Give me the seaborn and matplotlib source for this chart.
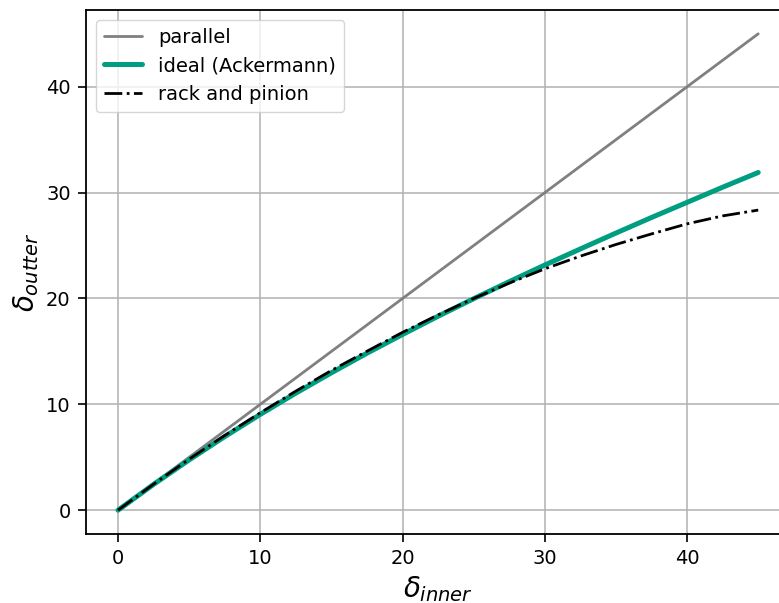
import matplotlib
matplotlib.use("Agg")
import matplotlib.pyplot as plt
import numpy as np
import pandas as pd
import seaborn as sns

# Inner wheel steering angle (degrees)
delta_inner = [0, 2.5, 5, 7.5, 10, 12.5, 15, 17.5, 20, 22.5, 25, 27.5, 30,
               32.5, 35, 37.5, 40, 42.5, 45]

# Outer wheel angle for each steering geometry
parallel = [0, 2.5, 5, 7.5, 10, 12.5, 15, 17.5, 20, 22.5, 25, 27.5, 30,
            32.5, 35, 37.5, 40, 42.5, 45]
ackermann = [0, 2.44, 4.75, 6.95, 9.05, 11.06, 12.98, 14.83, 16.6, 18.32,
             19.98, 21.59, 23.16, 24.68, 26.18, 27.65, 29.08, 30.51, 31.9]
rack_pinion = [0, 2.46, 4.82, 7.06, 9.2, 11.25, 13.2, 15.02, 16.8, 18.45,
               20.0, 21.45, 22.8, 24.0, 25.1, 26.1, 27.05, 27.8, 28.35]

df = pd.DataFrame({
    "inner": delta_inner,
    "parallel": parallel,
    "ideal (Ackermann)": ackermann,
    "rack and pinion": rack_pinion,
})

sns.set_style("ticks")
plt.rcParams["font.family"] = ["DejaVu Sans"]
plt.rcParams["text.color"] = "black"
plt.rcParams["axes.labelcolor"] = "black"

fig = plt.figure(figsize=(7.79, 6.03), dpi=100)
ax = fig.add_axes([0.1104, 0.1144, 0.904, 0.869])

sns.lineplot(data=df, x="inner", y="parallel", ax=ax, color="#808080",
             linewidth=2, label="parallel")
sns.lineplot(data=df, x="inner", y="ideal (Ackermann)", ax=ax,
             color="#009e80", linewidth=3.6, label="ideal (Ackermann)")
sns.lineplot(data=df, x="inner", y="rack and pinion", ax=ax, color="black",
             linewidth=2, linestyle="-.", label="rack and pinion")

ax.set_xlim(-2.25, 47.25)
ax.set_ylim(-2.25, 47.25)
ax.set_xticks([0, 10, 20, 30, 40])
ax.set_yticks([0, 10, 20, 30, 40])
ax.grid(True, color="#b0b0b0", linewidth=1.1)
ax.tick_params(axis="both", labelsize=14, direction="out", length=6,
               width=1.2, colors="black", pad=5)
for s in ax.spines.values():
    s.set_color("black")
    s.set_linewidth(1.3)

ax.set_xlabel(r"$\delta_{inner}$", fontsize=20, labelpad=4, color="black")
ax.set_ylabel(r"$\delta_{outter}$", fontsize=20, labelpad=4, color="black")

leg = ax.legend(loc="upper left", fontsize=14, frameon=True)
leg.get_frame().set_edgecolor("#cccccc")
for t in leg.get_texts():
    t.set_color("black")

fig.savefig("out.png", dpi=100)
